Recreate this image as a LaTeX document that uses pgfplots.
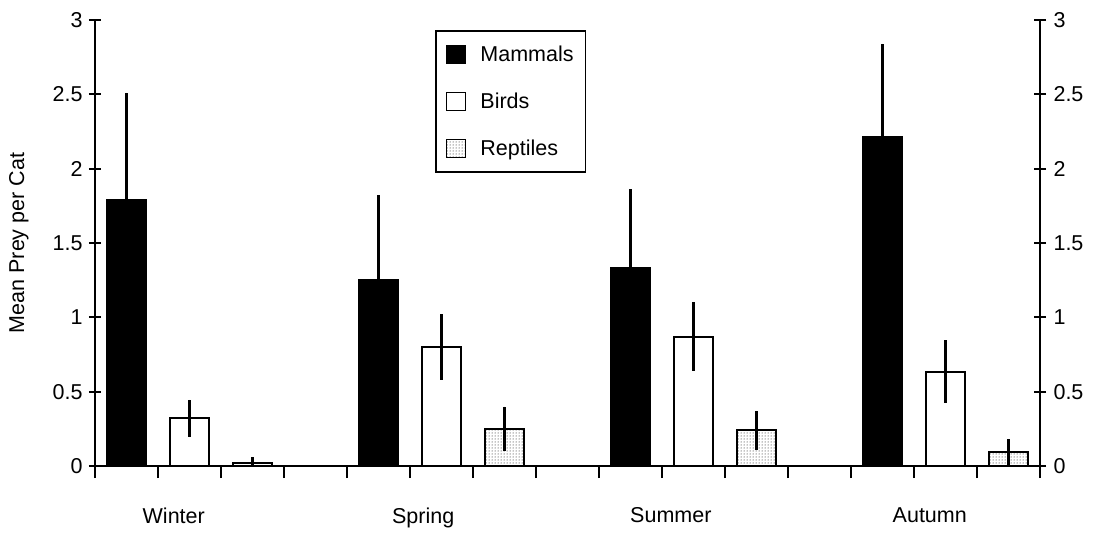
\documentclass[border=0pt]{standalone}
\usepackage{fontspec}
\setmainfont{Liberation Sans}
\usepackage{pgfplots}
\pgfplotsset{compat=1.18}
\usetikzlibrary{patterns}

\newcommand{\lblfont}{\fontsize{21.5pt}{25pt}\selectfont}
\newcommand{\tckfont}{\fontsize{21.5pt}{25pt}\selectfont}

\pgfplotsset{
  barbox/.style={line width=2pt},
  errs/.style={
    error bars/.cd, y dir=both, y explicit, error mark=none,
    error bar style={line width=2.6pt, black}
  },
}

\begin{document}
\begin{tikzpicture}
% page frame around the axis box (axis runs 945 x 446)
\useasboundingbox (-95pt,-69pt) rectangle (1010pt,466pt);

\begin{axis}[
  at={(0,0)}, anchor=origin,
  scale only axis,
  width=945pt, height=446pt,
  xmin=0, xmax=15, ymin=0, ymax=3,
  axis x line=bottom, axis y line=left,
  axis line style={-, line width=2.2pt},
  every tick/.style={black, line width=1.8pt},
  tick align=center,
  major tick length=12pt,
  xtick={0,...,15}, xticklabels={},
  extra x ticks={1.25,5.21,9.14,13.25},
  extra x tick labels={Winter,Spring,Summer,Autumn},
  extra x tick style={major tick length=0pt,
    tick label style={yshift=-38pt, font=\lblfont}},
  ytick={0,0.5,...,3},
  yticklabel style={font=\tckfont, xshift=-3pt},
  /pgf/number format/assume math mode=true,
  ylabel={Mean Prey per Cat},
  every axis y label/.style={at={(axis description cs:-0.0805,0.5)},
    anchor=center, rotate=90},
  ylabel style={font=\lblfont},
  ybar,
  bar width=0.63,
  legend style={
    at={(0.36,0.977)}, anchor=north west,
    draw=black, line width=1.5pt,
    font=\lblfont,
    row sep=26pt,
    inner xsep=10pt, inner ysep=13pt,
    cells={anchor=west},
    /tikz/every odd column/.append style={column sep=12pt},
  },
  legend image code/.code={
    \draw[#1, line width=1.5pt] (0pt,-9pt) rectangle (19pt,9pt);
  },
]

% Mammals
\addplot[barbox, draw=black, fill=black, bar shift=0pt, errs]
  coordinates {
    (0.5,1.79)  +- (0,0.72)
    (4.5,1.25)  +- (0,0.57)
    (8.5,1.33)  +- (0,0.53)
    (12.5,2.21) +- (0,0.63)
  };
\addlegendentry{Mammals}

% Birds
\addplot[barbox, draw=black, fill=white, bar shift=0pt, errs]
  coordinates {
    (1.5,0.32)  +- (0,0.125)
    (5.5,0.80)  +- (0,0.22)
    (9.5,0.87)  +- (0,0.23)
    (13.5,0.635) +- (0,0.21)
  };
\addlegendentry{Birds}

% Reptiles
\addplot[barbox, draw=black, fill=white,
  postaction={pattern=dots, pattern color=black},
  bar shift=0pt, errs]
  coordinates {
    (2.5,0.02)  +- (0,0.04)
    (6.5,0.25)  +- (0,0.15)
    (10.5,0.24) +- (0,0.13)
    (14.5,0.095) +- (0,0.085)
  };
\addlegendentry{Reptiles}
\end{axis}

% right-hand value scale
\begin{axis}[
  at={(0,0)}, anchor=origin,
  scale only axis,
  width=945pt, height=446pt,
  xmin=0, xmax=15, ymin=0, ymax=3,
  axis x line=none, axis y line=right,
  axis line style={-, line width=2.2pt},
  every tick/.style={black, line width=1.8pt},
  tick align=center,
  major tick length=12pt,
  xtick=\empty,
  ytick={0,0.5,...,3},
  yticklabel style={font=\tckfont, xshift=4pt},
  /pgf/number format/assume math mode=true,
]
\end{axis}
\end{tikzpicture}
\end{document}
